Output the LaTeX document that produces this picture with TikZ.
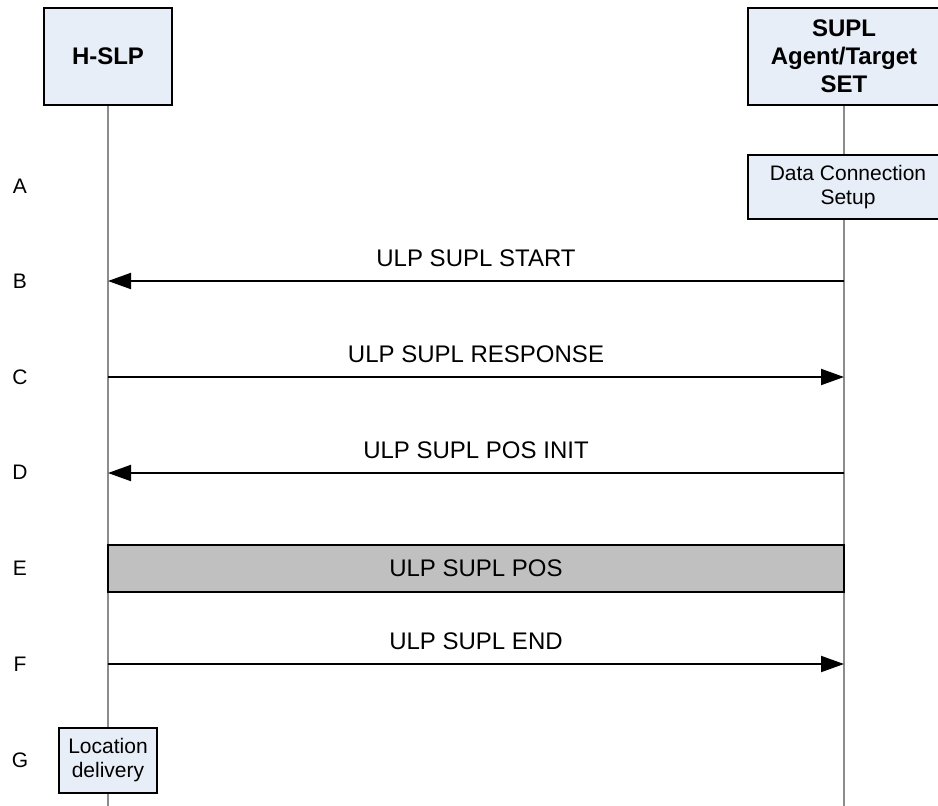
\documentclass[tikz,border=0pt]{standalone}
\usepackage{fontspec}
\setmainfont{Liberation Sans}
\usetikzlibrary{positioning,arrows.meta,backgrounds}

\definecolor{boxblue}{HTML}{E8EEF7}
\definecolor{lifegray}{HTML}{8C8C8C}
\definecolor{posgray}{HTML}{C0C0C0}

\tikzset{
  actor/.style={draw, line width=2pt, fill=boxblue, align=center, inner sep=0pt,
    minimum height=97pt, font=\fontsize{24}{28}\selectfont\bfseries},
  task/.style={draw, line width=2pt, fill=boxblue, align=center, inner sep=0pt,
    font=\fontsize{21}{24}\selectfont},
  posbox/.style={draw, line width=2pt, fill=posgray, inner sep=0pt,
    font=\fontsize{24}{28}\selectfont},
  msg/.style={line width=2pt, -{Triangle[length=23pt,width=16pt]}},
  msglabel/.style={font=\fontsize{24}{28}\selectfont, inner sep=0pt, above=13pt},
  lifeline/.style={draw=lifegray, line width=1.6pt},
  rowlabel/.style={font=\fontsize{21}{24}\selectfont, inner sep=0pt},
}

\begin{document}
\begin{tikzpicture}[x=1pt,y=1pt]
  \useasboundingbox (0,0) rectangle (938,-806);

  % entities
  \node[actor, minimum width=128pt] (hslp) at (108,-56.5) {H-SLP};
  \node[actor, minimum width=192pt] (set) at (844,-56.5) {SUPL\\Agent/Target\\SET};

  \node[task, minimum width=200pt, minimum height=64pt] (dcs) [below=48pt of set, xshift=4pt] {Data Connection\\Setup};
  \node[task, minimum width=98pt, minimum height=65pt] (loc) at (108,-760.5) {Location\\delivery};

  % row labels
  \foreach \lbl/\y in {A/186,B/281,C/377,D/472,E/568,F/664,G/760}
    \node[rowlabel] (row\lbl) at (20,-\y) {\lbl};

  % points on the lifelines
  \foreach \lbl/\y in {B/281,C/377,D/473,F/664} {
    \coordinate (h\lbl) at (hslp.center |- 0,-\y);
    \coordinate (s\lbl) at (set.center |- 0,-\y);
  }
  \coordinate (hend) at (hslp.center |- 0,-806);
  \coordinate (send) at (set.center |- 0,-806);

  \begin{pgfonlayer}{background}
    \draw[lifeline] (hslp.south) -- (hend);
    \draw[lifeline] (set.south) -- (send);
  \end{pgfonlayer}

  % messages
  \draw[msg] (sB) -- (hB) node[msglabel, midway] {ULP SUPL START};
  \draw[msg] (hC) -- (sC) node[msglabel, midway] {ULP SUPL RESPONSE};
  \draw[msg] (sD) -- (hD) node[msglabel, midway] {ULP SUPL POS INIT};

  \node[posbox, minimum width=736pt, minimum height=47pt] (pos) at (476,-568.5) {ULP SUPL POS};

  \draw[msg] (hF) -- (sF) node[msglabel, midway] {ULP SUPL END};

\end{tikzpicture}
\end{document}
